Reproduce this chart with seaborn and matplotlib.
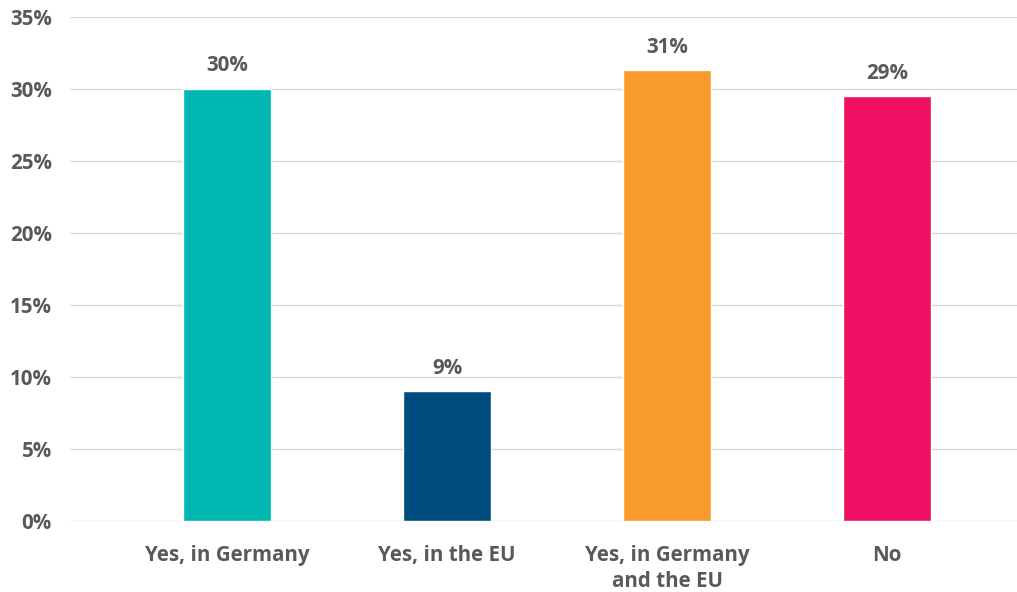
import matplotlib
matplotlib.use('Agg')
import matplotlib.pyplot as plt
import seaborn as sns
import pandas as pd

categories = ['Yes, in Germany', 'Yes, in the EU', 'Yes, in Germany\nand the EU', 'No']
shares = [30.0, 9.0, 31.3, 29.5]
value_labels = ['30%', '9%', '31%', '29%']
bar_colors = ['#00B8B2', '#004C7E', '#F89B2B', '#EE1163']
y_ticks = [0, 5, 10, 15, 20, 25, 30, 35]

sns.set_style('white')
plt.rcParams['font.family'] = ['Open Sans', 'DejaVu Sans']
text_color = '#595959'
fsize = 14.8

df = pd.DataFrame({'answer': categories, 'share': shares})

fig = plt.figure(figsize=(10.17, 5.92), dpi=100)
ax = fig.add_axes([0.0688, 0.1199, 0.9312, 0.8514])

sns.barplot(data=df, x='answer', y='share', hue='answer', palette=bar_colors,
            width=0.4, legend=False, ax=ax, saturation=1)

for container, lab in zip(ax.containers, value_labels):
    ax.bar_label(container, labels=[lab], padding=9, fontsize=fsize,
                 fontweight='bold', color=text_color)

ax.set_ylim(0, 35)
ax.set_yticks(y_ticks)
ax.set_yticklabels([f'{t}%' for t in y_ticks])
ax.set_xlim(-0.714, 3.59)
ax.set_xlabel('')
ax.set_ylabel('')
ax.grid(axis='y', color='#d9d9d9', linewidth=1)
ax.set_axisbelow(True)
for s in ax.spines.values():
    s.set_visible(False)
ax.tick_params(axis='both', length=0, labelsize=fsize, colors=text_color)
ax.tick_params(axis='y', pad=13)
ax.tick_params(axis='x', pad=17)
for lbl in ax.get_xticklabels() + ax.get_yticklabels():
    lbl.set_fontweight('bold')
    lbl.set_linespacing(1.35)

fig.savefig('out.png', dpi=100, facecolor='white')
